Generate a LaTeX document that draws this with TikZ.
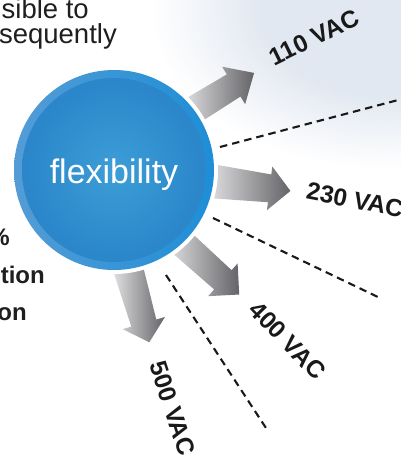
\documentclass[tikz,border=0pt]{standalone}
\usepackage{fontspec}
\setmainfont{Liberation Sans}
\definecolor{bgblue}{RGB}{226,232,241}
\definecolor{ringL}{RGB}{84,156,214}
\definecolor{ringR}{RGB}{30,142,214}
\definecolor{discin}{RGB}{60,158,215}
\definecolor{discmid}{RGB}{44,136,203}
\definecolor{discout}{RGB}{30,116,190}
\definecolor{arrowlight}{RGB}{222,222,224}
\definecolor{arrowdark}{RGB}{100,100,104}
\pgfdeclareradialshading{discshade}{\pgfpoint{0bp}{0bp}}{color(0bp)=(discin); color(22bp)=(discmid); color(50bp)=(discout)}
\newcommand\blockarrow[8]{%
  \begin{scope}[shift={(#1,#2)}, rotate=#3]
    \shade[left color=arrowlight, right color=arrowdark]
      (-6,-#5) -- (#4-#8,-#6) -- (#4-#8,-#7) -- (#4,0) -- (#4-#8,#7) -- (#4-#8,#6) -- (-6,#5) -- cycle;
  \end{scope}}
\tikzset{
  vlabel/.style={font=\fontsize{24.5}{28}\selectfont\bfseries, inner sep=0pt, text=black!90},
  sidetext/.style={font=\fontsize{27.5}{30}\selectfont, inner sep=0pt, anchor=base east, text=black!88},
  sidebold/.style={font=\fontsize{24}{28}\selectfont\bfseries, inner sep=0pt, anchor=base east, text=black!88},
  dashline/.style={line width=2.1pt, dash pattern=on 7.5pt off 5pt, black!90}
}
\begin{document}
\begin{tikzpicture}[x=1pt,y=-1pt]
\useasboundingbox (0,0) rectangle (400,464);
\fill[white] (0,0) rectangle (400,464);
% background glow
\foreach \i in {0,...,30}{
  \pgfmathsetmacro\f{1-0.45*\i/30}
  \pgfmathsetmacro\c{100*\i/30}
  \fill[bgblue!\c!white] (390,10) ellipse [x radius=240*\f, y radius=160*\f];
}
% left text fragments
\node[sidetext] (t1) at (89,18) {sible to};
\node[sidetext] (t2) at (117,43) {sequently};
\node[sidebold] (t3) at (10,245) {\%};
\node[sidebold] (t4) at (45,283) {ction};
\node[sidebold] (t5) at (27,320) {on};
% dashed lines
\coordinate (d1a) at (220,147);
\coordinate (d1b) at (402,99);
\coordinate (d2a) at (213,218);
\coordinate (d2b) at (380,298);
\coordinate (d3a) at (166,275);
\coordinate (d3b) at (266,428);
\draw[dashline] (d1a) -- (d1b);
\draw[dashline] (d2a) -- (d2b);
\draw[dashline] (d3a) -- (d3b);
% arrows: x, y, angle, length, tail half-width, shaft half-width, head half-width, head length
\blockarrow{197}{108}{31.6}{67}{14}{13}{22}{24}
\blockarrow{218}{182}{-7}{73}{17}{14}{22}{21}
\blockarrow{182}{243}{-42}{77}{14}{13}{22}{22}
\blockarrow{130}{275}{-74}{70}{15}{13}{22}{20}
% circle
\fill[white] (114,170) circle (104);
\shade[left color=ringL, right color=ringR] (114,170) circle (100);
\shade[shading=discshade] (114,170) circle (92);
\node[font=\fontsize{34}{40}\selectfont, text=white, inner sep=0pt, anchor=base] (flex) at (114,183) {flexibility};
% labels
\node[vlabel, rotate=26] (l110) at (314.5,37.5) {110 VAC};
\node[vlabel, rotate=-11] (l230) at (355,200) {230 VAC};
\node[vlabel, rotate=-46] (l400) at (287.5,340.5) {400 VAC};
\node[vlabel, rotate=-72] (l500) at (172.5,408.5) {500 VAC};
\end{tikzpicture}
\end{document}
